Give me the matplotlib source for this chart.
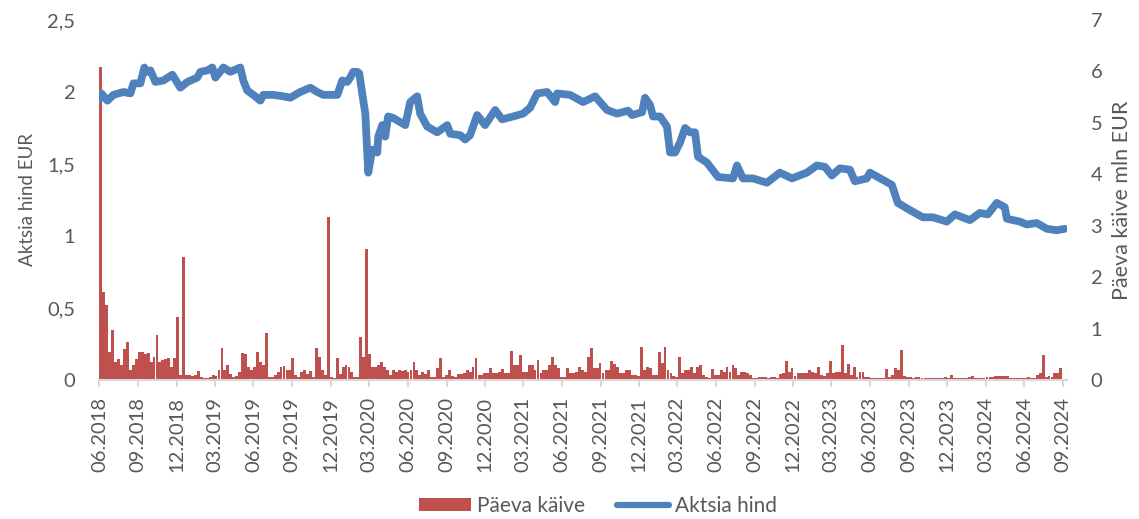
import matplotlib
matplotlib.use("Agg")
import matplotlib.pyplot as plt
import matplotlib.dates as mdates
from matplotlib.lines import Line2D
from matplotlib.patches import Patch
import numpy as np
import pandas as pd

# ---------------- data ----------------
start_date = "2018-06-01"

# share price (EUR): position in months since 06.2018, value
price_month = [0.00, 0.15, 0.62, 1.09, 1.87, 2.41, 2.65, 3.19, 3.50, 3.70, 3.97, 4.36, 4.98, 5.68,
               6.30, 6.85, 7.62, 7.86, 8.40, 8.79, 9.03, 9.65, 10.19, 10.97, 11.20, 11.51, 11.98,
               12.53, 12.76, 13.54, 14.32, 14.86, 15.64, 16.42, 16.96, 17.43, 18.52, 18.91, 19.30,
               19.53, 19.76, 20.07, 20.23, 20.46, 20.70, 20.93, 21.24, 21.63, 21.71, 22.02, 22.25,
               22.48, 22.87, 23.81, 24.20, 24.74, 24.97, 25.52, 26.30, 27.08, 27.31, 28.09, 28.48,
               28.86, 29.41, 30.03, 30.81, 31.35, 32.21, 32.99, 33.53, 34.08, 34.86, 35.48, 35.64,
               36.65, 37.66, 38.59, 39.52, 40.30, 41.16, 41.47, 42.25, 42.48, 42.87, 43.10, 43.65,
               44.19, 44.43, 44.82, 45.21, 45.60, 45.99, 46.37, 46.61, 47.30, 48.16, 49.33, 49.64,
               50.10, 50.88, 51.97, 52.98, 53.92, 55.08, 55.86, 56.49, 57.03, 57.65, 58.43, 58.82,
               59.75, 59.99, 61.00, 61.70, 62.16, 63.10, 64.11, 64.89, 65.98, 66.60, 67.77, 68.55,
               69.17, 69.87, 70.49, 70.65, 71.66, 72.20, 72.98, 73.76, 74.54, 75.16]
price_value = [1.95, 1.99, 1.94, 1.98, 2.00, 1.99, 2.06, 2.06, 2.17, 2.14, 2.15, 2.07, 2.08, 2.12,
               2.03, 2.07, 2.10, 2.14, 2.15, 2.17, 2.10, 2.17, 2.14, 2.17, 2.08, 2.01, 1.98,
               1.94, 1.98, 1.98, 1.97, 1.96, 2.00, 2.03, 2.00, 1.98, 1.98, 2.08, 2.07,
               2.10, 2.14, 2.14, 2.13, 1.99, 1.85, 1.44, 1.60, 1.58, 1.69, 1.77, 1.69,
               1.83, 1.82, 1.77, 1.93, 1.97, 1.85, 1.76, 1.72, 1.77, 1.71, 1.70, 1.67,
               1.70, 1.84, 1.77, 1.875, 1.81, 1.83, 1.85, 1.89, 1.99, 2.00, 1.93, 1.99,
               1.98, 1.93, 1.97, 1.875, 1.85, 1.87, 1.84, 1.86, 1.96, 1.91, 1.83, 1.83,
               1.76, 1.58, 1.58, 1.65, 1.75, 1.72, 1.72, 1.55, 1.51, 1.41, 1.40, 1.49,
               1.40, 1.40, 1.37, 1.44, 1.40, 1.44, 1.49, 1.48, 1.42, 1.47, 1.46, 1.38,
               1.40, 1.44, 1.39, 1.355, 1.23, 1.18, 1.13, 1.13, 1.10, 1.15, 1.11, 1.16,
               1.15, 1.23, 1.20, 1.12, 1.10, 1.08, 1.09, 1.05, 1.04, 1.05]

# daily turnover (mln EUR), one value per week from 06.2018
turnover = [6.09, 1.72, 1.45, 0.55, 0.97, 0.35, 0.40, 0.30, 0.60, 0.74,
            0.20, 0.30, 0.40, 0.55, 0.55, 0.50, 0.52, 0.35, 0.45, 0.87,
            0.35, 0.38, 0.40, 0.42, 0.25, 0.42, 1.23, 0.10, 2.39, 0.10,
            0.10, 0.08, 0.10, 0.18, 0.06, 0.04, 0.04, 0.05, 0.10, 0.08,
            0.20, 0.62, 0.20, 0.30, 0.12, 0.06, 0.08, 0.15, 0.52, 0.50,
            0.25, 0.20, 0.25, 0.55, 0.35, 0.30, 0.91, 0.06, 0.05, 0.10,
            0.15, 0.25, 0.28, 0.20, 0.20, 0.42, 0.10, 0.06, 0.15, 0.20,
            0.12, 0.18, 0.05, 0.62, 0.45, 0.20, 0.10, 3.17, 0.06, 0.04,
            0.42, 0.12, 0.25, 0.30, 0.25, 0.15, 0.06, 0.06, 0.84, 0.45,
            2.55, 0.50, 0.25, 0.25, 0.30, 0.35, 0.25, 0.20, 0.10, 0.20,
            0.15, 0.20, 0.18, 0.20, 0.15, 0.20, 0.35, 0.20,
            0.10, 0.16, 0.12, 0.19, 0.06, 0.06, 0.23, 0.42, 0.06, 0.10,
            0.19, 0.08, 0.06, 0.12, 0.12, 0.13, 0.19, 0.16, 0.26, 0.42,
            0.10, 0.10, 0.13, 0.13, 0.24, 0.13, 0.13, 0.16, 0.21, 0.13,
            0.13, 0.56, 0.29, 0.29, 0.49, 0.16, 0.16, 0.29, 0.29, 0.19,
            0.39, 0.13, 0.19, 0.19, 0.29, 0.44, 0.29, 0.23, 0.06, 0.06,
            0.23, 0.13, 0.13, 0.16, 0.26, 0.19, 0.16, 0.45, 0.62, 0.23,
            0.23, 0.34, 0.13, 0.19, 0.19, 0.36, 0.32, 0.26, 0.13, 0.13,
            0.19, 0.19, 0.10, 0.10, 0.08, 0.64, 0.19, 0.26, 0.23, 0.10,
            0.10, 0.54, 0.34, 0.64, 0.19, 0.13, 0.08, 0.06, 0.44, 0.13,
            0.19, 0.19, 0.26, 0.13, 0.26, 0.29, 0.10, 0.06, 0.04, 0.21,
            0.10, 0.10, 0.19, 0.16, 0.26, 0.16, 0.29, 0.23, 0.10,
            0.16, 0.16, 0.13, 0.10, 0.04, 0.04, 0.05, 0.05, 0.06, 0.04,
            0.05, 0.05, 0.04, 0.11, 0.14, 0.37, 0.16, 0.24, 0.08, 0.14,
            0.13, 0.13, 0.13, 0.19, 0.16, 0.13, 0.26, 0.10, 0.08, 0.14,
            0.37, 0.13, 0.16, 0.16, 0.69, 0.13, 0.32, 0.10, 0.26, 0.06,
            0.16, 0.16, 0.05, 0.05, 0.04, 0.04, 0.04, 0.03, 0.04, 0.21,
            0.05, 0.10, 0.23, 0.19, 0.58, 0.08, 0.05, 0.05, 0.04, 0.05,
            0.05, 0.04, 0.04, 0.04, 0.04, 0.04, 0.04, 0.04, 0.04, 0.05,
            0.04, 0.09, 0.04, 0.04, 0.04, 0.04, 0.04, 0.05, 0.08, 0.04,
            0.04, 0.04, 0.04, 0.05, 0.05, 0.05, 0.08, 0.08, 0.08, 0.08,
            0.08, 0.04, 0.04, 0.04, 0.04, 0.04, 0.04, 0.05, 0.04, 0.04,
            0.10, 0.13, 0.49, 0.06, 0.08, 0.05, 0.13, 0.13, 0.23]

left_ticks = [0, 0.5, 1, 1.5, 2, 2.5]
left_tick_labels = ["0", "0,5", "1", "1,5", "2", "2,5"]
right_ticks = [0, 1, 2, 3, 4, 5, 6, 7]
left_label = "Aktsia hind EUR"
right_label = "Päeva käive mln EUR"
legend_bar = "Päeva käive"
legend_line = "Aktsia hind"

# ---------------- derived ----------------
base = pd.Timestamp(start_date)
price_dates = [base + pd.Timedelta(days=m * 30.4375) for m in price_month]
vol_dates = pd.date_range(start_date, periods=len(turnover), freq="7D")
tick_dates = pd.date_range(start_date, "2024-09-01", freq="3MS")

RED = "#C0504D"
BLUE = "#4F81BD"
GREY = "#595959"
AXIS = "#D9D9D9"

plt.rcParams["font.family"] = ["Lato", "DejaVu Sans"]

fig = plt.figure(figsize=(11.39, 5.19), dpi=100)
ax = fig.add_axes([99 / 1139, 1 - 380 / 519, (1067 - 99) / 1139, 360 / 519])
ax2 = ax.twinx()

ax2.bar(vol_dates, turnover, width=6.8, align="edge", color=RED, linewidth=0)
ax.plot(price_dates, price_value, color=BLUE, linewidth=5.6, solid_capstyle="round",
        solid_joinstyle="round")

ax.set_zorder(ax2.get_zorder() + 1)
ax.patch.set_visible(False)

ax.set_xlim(pd.Timestamp("2018-05-31"), pd.Timestamp("2024-09-10"))
ax.set_ylim(0, 2.5)
ax2.set_ylim(0, 7)

ax.set_yticks(left_ticks)
ax.set_yticklabels(left_tick_labels)
ax2.set_yticks(right_ticks)
ax2.set_yticklabels([str(t) for t in right_ticks])

ax.set_xticks(tick_dates)
ax.xaxis.set_major_formatter(mdates.DateFormatter("%m.%Y"))
for lbl in ax.get_xticklabels():
    lbl.set_rotation(90)

for a in (ax, ax2):
    for s in ("top", "left", "right", "bottom"):
        a.spines[s].set_visible(False)
ax.spines["bottom"].set_visible(True)
ax.spines["bottom"].set_color(AXIS)
ax.spines["bottom"].set_linewidth(1.5)

ax.tick_params(axis="x", colors=GREY, labelsize=14.5, length=5, width=1.5, color=AXIS, pad=7)
ax.tick_params(axis="y", colors=GREY, labelsize=14.5, length=0, pad=17)
ax2.tick_params(axis="y", colors=GREY, labelsize=14.5, length=0, pad=17)

ax.set_ylabel(left_label, color=GREY, fontsize=13.5, labelpad=8)
ax2.set_ylabel(right_label, color=GREY, fontsize=15.5, labelpad=7)

handles = [Patch(facecolor=RED, edgecolor="none"),
           Line2D([0], [0], color=BLUE, linewidth=4.5, solid_capstyle="round")]
fig.legend(handles, [legend_bar, legend_line], loc="center", bbox_to_anchor=(598 / 1139, 1 - 506 / 519),
           ncol=2, frameon=False, fontsize=15, labelcolor=GREY, handlelength=2.5,
           handleheight=0.6, columnspacing=1.5, handletextpad=0.3)

fig.savefig("out.png", dpi=100)
